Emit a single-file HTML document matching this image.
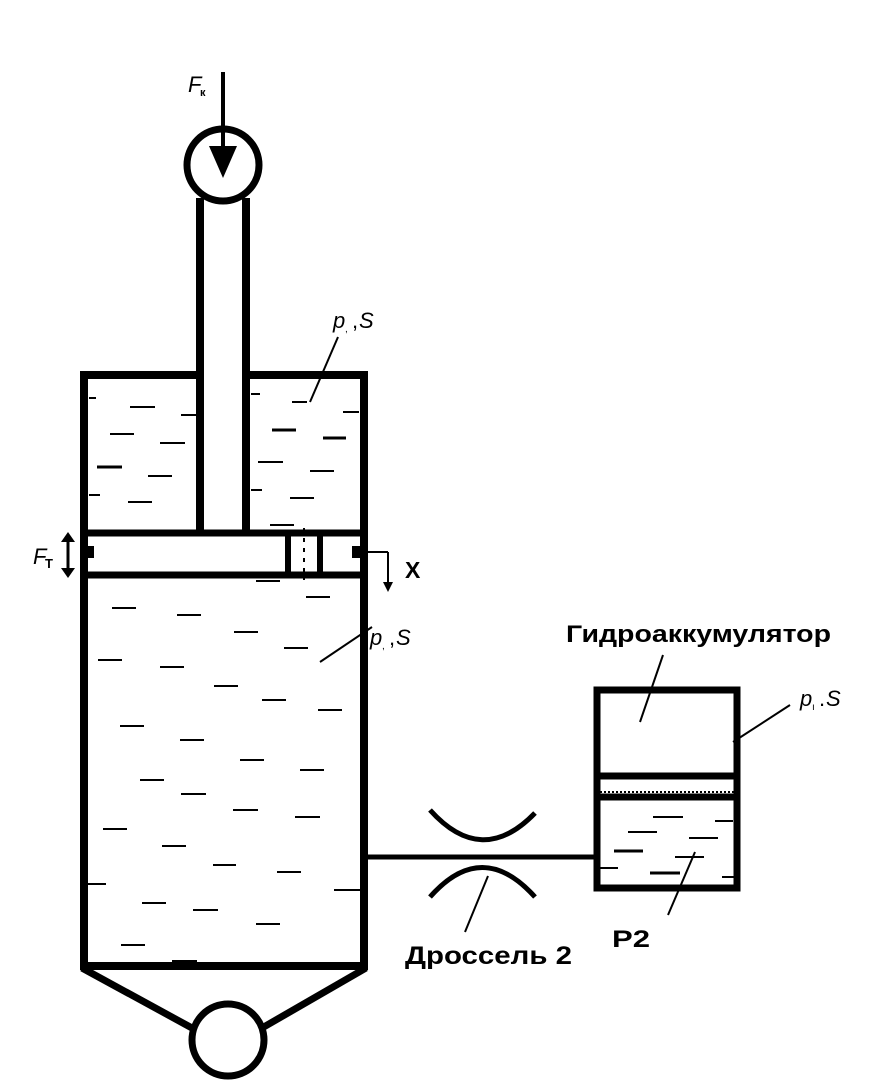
<!DOCTYPE html>
<html><head><meta charset="utf-8"><style>html,body{margin:0;padding:0;background:#fff}svg{display:block}</style></head>
<body>
<svg width="883" height="1082" viewBox="0 0 883 1082" xmlns="http://www.w3.org/2000/svg" font-family="Liberation Sans, sans-serif">
<g stroke="#000" fill="none" stroke-linecap="butt">
<line x1="223" y1="72" x2="223" y2="150" stroke-width="4"/>
<polygon points="209,146 237,146 223,178" fill="#000" stroke="none"/>
<circle cx="223" cy="165" r="36" stroke-width="7"/>
<line x1="200" y1="198" x2="200" y2="533" stroke-width="8"/>
<line x1="246" y1="198" x2="246" y2="533" stroke-width="8"/>
<line x1="80" y1="375" x2="200" y2="375" stroke-width="8"/>
<line x1="246" y1="375" x2="367" y2="375" stroke-width="8"/>
<line x1="84" y1="371" x2="84" y2="970" stroke-width="8"/>
<line x1="364" y1="371" x2="364" y2="970" stroke-width="8"/>
<line x1="80" y1="966" x2="368" y2="966" stroke-width="8"/>
<line x1="84" y1="533" x2="364" y2="533" stroke-width="7"/>
<line x1="84" y1="575" x2="364" y2="575" stroke-width="7"/>
<line x1="288" y1="533" x2="288" y2="575" stroke-width="6"/>
<line x1="320" y1="533" x2="320" y2="575" stroke-width="6"/>
<line x1="304" y1="528" x2="304" y2="580" stroke-width="2" stroke-dasharray="4,6"/>
<line x1="82" y1="968" x2="192" y2="1028" stroke-width="7"/>
<line x1="366" y1="968" x2="262" y2="1028" stroke-width="7"/>
<circle cx="228" cy="1040" r="36" stroke-width="7"/>
<line x1="364" y1="857" x2="596" y2="857" stroke-width="5"/>
<path d="M430,810 Q482,868 535,813" stroke-width="5"/>
<path d="M430,897 Q482,838 535,897" stroke-width="5"/>
<line x1="488" y1="876" x2="465" y2="932" stroke-width="2"/>
<rect x="597" y="690" width="140" height="198" stroke-width="7"/>
<line x1="597" y1="776" x2="737" y2="776" stroke-width="7"/>
<line x1="597" y1="797" x2="737" y2="797" stroke-width="7"/>
<line x1="600" y1="792" x2="734" y2="792" stroke-width="2" stroke-dasharray="2,2"/>
<line x1="338" y1="337" x2="310" y2="402" stroke-width="2"/>
<line x1="372" y1="627" x2="320" y2="662" stroke-width="2"/>
<line x1="663" y1="655" x2="640" y2="722" stroke-width="2"/>
<line x1="790" y1="705" x2="733" y2="742" stroke-width="2"/>
<line x1="695" y1="852" x2="668" y2="915" stroke-width="2"/>
<line x1="366" y1="552" x2="388" y2="552" stroke-width="2"/>
<line x1="388" y1="552" x2="388" y2="585" stroke-width="2"/>
<polygon points="383,582 393,582 388,592" fill="#000" stroke="none"/>
<line x1="68" y1="538" x2="68" y2="572" stroke-width="3"/>
<polygon points="61,542 75,542 68,532" fill="#000" stroke="none"/>
<polygon points="61,568 75,568 68,578" fill="#000" stroke="none"/>
<rect x="86" y="546" width="8" height="12" fill="#000" stroke="none"/>
<rect x="352" y="546" width="8" height="12" fill="#000" stroke="none"/>
</g>
<g stroke="#000" stroke-width="2">
<line x1="89" y1="398" x2="96" y2="398"/><line x1="130" y1="407" x2="155" y2="407"/><line x1="181" y1="415" x2="196" y2="415"/>
<line x1="110" y1="434" x2="134" y2="434"/><line x1="160" y1="443" x2="185" y2="443"/>
<line x1="97" y1="467" x2="122" y2="467" stroke-width="3"/><line x1="148" y1="476" x2="172" y2="476"/>
<line x1="89" y1="495" x2="100" y2="495"/><line x1="128" y1="502" x2="152" y2="502"/>
<line x1="251" y1="394" x2="260" y2="394"/><line x1="292" y1="402" x2="307" y2="402"/><line x1="343" y1="412" x2="359" y2="412"/>
<line x1="272" y1="430" x2="296" y2="430" stroke-width="3"/><line x1="323" y1="438" x2="346" y2="438" stroke-width="3"/>
<line x1="258" y1="462" x2="283" y2="462"/><line x1="310" y1="471" x2="334" y2="471"/>
<line x1="251" y1="490" x2="262" y2="490"/><line x1="290" y1="498" x2="314" y2="498"/><line x1="270" y1="525" x2="294" y2="525"/>
<line x1="256" y1="581" x2="280" y2="581"/><line x1="306" y1="597" x2="330" y2="597"/>
<line x1="112" y1="608" x2="136" y2="608"/><line x1="177" y1="615" x2="201" y2="615"/>
<line x1="234" y1="632" x2="258" y2="632"/><line x1="284" y1="648" x2="308" y2="648"/>
<line x1="98" y1="660" x2="122" y2="660"/><line x1="160" y1="667" x2="184" y2="667"/>
<line x1="214" y1="686" x2="238" y2="686"/><line x1="262" y1="700" x2="286" y2="700"/><line x1="318" y1="710" x2="342" y2="710"/>
<line x1="120" y1="726" x2="144" y2="726"/><line x1="180" y1="740" x2="204" y2="740"/><line x1="240" y1="760" x2="264" y2="760"/>
<line x1="300" y1="770" x2="324" y2="770"/><line x1="140" y1="780" x2="164" y2="780"/>
<line x1="181" y1="794" x2="206" y2="794"/><line x1="233" y1="810" x2="258" y2="810"/><line x1="295" y1="817" x2="320" y2="817"/>
<line x1="103" y1="829" x2="127" y2="829"/><line x1="162" y1="846" x2="186" y2="846"/><line x1="213" y1="865" x2="236" y2="865"/><line x1="277" y1="872" x2="301" y2="872"/>
<line x1="88" y1="884" x2="106" y2="884"/><line x1="142" y1="903" x2="166" y2="903"/><line x1="193" y1="910" x2="218" y2="910"/><line x1="334" y1="890" x2="360" y2="890"/>
<line x1="256" y1="924" x2="280" y2="924"/><line x1="121" y1="945" x2="145" y2="945"/><line x1="172" y1="961" x2="197" y2="961"/>
<line x1="653" y1="817" x2="683" y2="817"/><line x1="715" y1="821" x2="733" y2="821"/>
<line x1="628" y1="832" x2="657" y2="832"/><line x1="689" y1="838" x2="718" y2="838"/>
<line x1="614" y1="851" x2="643" y2="851" stroke-width="3"/><line x1="675" y1="857" x2="704" y2="857"/>
<line x1="600" y1="868" x2="618" y2="868"/><line x1="650" y1="873" x2="680" y2="873" stroke-width="3"/><line x1="722" y1="877" x2="734" y2="877"/>
</g>
<g fill="#000">
<text x="188" y="92" font-size="22" font-style="italic">F</text><text x="200" y="96" font-size="11" font-weight="bold">к</text>
<text x="333" y="328" font-size="22" font-style="italic">p</text><text x="345" y="332" font-size="10">,</text><text x="352" y="328" font-size="22">,</text><text x="359" y="328" font-size="22" font-style="italic">S</text>
<text x="370" y="645" font-size="22" font-style="italic">p</text><text x="382" y="649" font-size="10">,</text><text x="389" y="645" font-size="22">,</text><text x="396" y="645" font-size="22" font-style="italic">S</text>
<text x="800" y="706" font-size="22" font-style="italic">p</text><text x="812" y="710" font-size="10">ı</text><text x="819" y="706" font-size="22">.</text><text x="826" y="706" font-size="22" font-style="italic">S</text>
<text x="33" y="564" font-size="22" font-style="italic">F</text><text x="45" y="568" font-size="13" font-weight="bold">T</text>
<text x="405" y="578" font-size="23" font-weight="bold">X</text>
<text x="566" y="642" font-size="24" font-weight="bold" textLength="265" lengthAdjust="spacingAndGlyphs">Гидроаккумулятор</text>
<text x="405" y="964" font-size="25" font-weight="bold" textLength="167" lengthAdjust="spacingAndGlyphs">Дроссель 2</text>
<text x="612" y="947" font-size="24" font-weight="bold" textLength="38" lengthAdjust="spacingAndGlyphs">P2</text>
</g>
</svg>
</body></html>
